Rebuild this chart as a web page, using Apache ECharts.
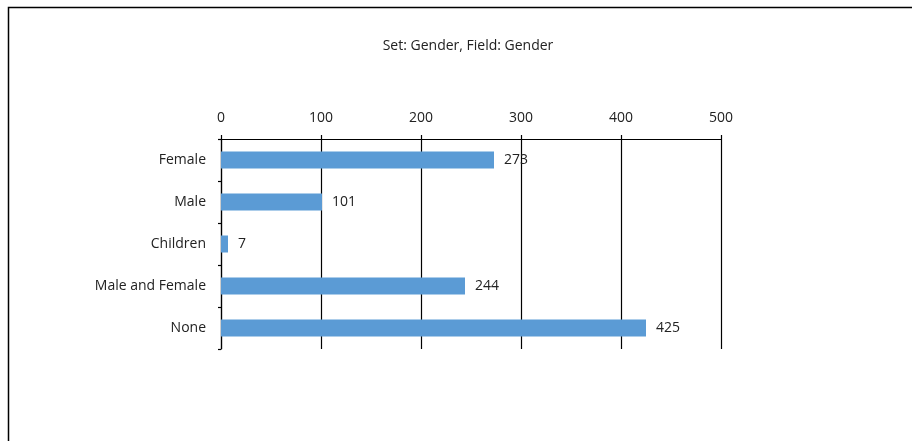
<!DOCTYPE html>
<html>
<head>
<meta charset="utf-8">
<script src="https://cdn.jsdelivr.net/npm/echarts@6/dist/echarts.min.js"></script>
<style>html,body{margin:0;padding:0;background:#fff;}#c{width:912px;height:441px;}</style>
</head>
<body>
<div id="c"></div>
<script>
var titleText = "Set: Gender, Field: Gender";
var categories = ["Female", "Male", "Children", "Male and Female", "None"];
var values = [273, 101, 7, 244, 425];
var tickValues = [0, 100, 200, 300, 400, 500];

var FONT = "'Open Sans', Lato, sans-serif";
var chart = echarts.init(document.getElementById('c'), null, {renderer: 'canvas'});
chart.setOption({
  animation: false,
  backgroundColor: '#ffffff',
  title: {
    text: titleText,
    left: 463, top: 34, textAlign: 'center',
    textStyle: {fontFamily: FONT, fontSize: 14, fontWeight: 'normal', color: '#222'}
  },
  graphic: [{
    type: 'rect', silent: true,
    shape: {x: 8.5, y: 7.5, width: 1000, height: 1000},
    style: {fill: 'none', stroke: '#000', lineWidth: 1.5}
  }],
  grid: {left: 221, right: 191, top: 139, bottom: 92, containLabel: false},
  xAxis: {
    type: 'value', position: 'top',
    min: tickValues[0], max: tickValues[tickValues.length - 1], interval: 100,
    axisLine: {show: true, lineStyle: {color: '#000', width: 1.2}},
    axisTick: {show: true, length: 4, lineStyle: {color: '#000', width: 1.2}},
    axisLabel: {margin: 14, fontFamily: FONT, fontSize: 14, color: '#222'},
    splitLine: {show: true, lineStyle: {color: '#000', width: 1.2}}
  },
  yAxis: {
    type: 'category', data: categories, inverse: true,
    axisLine: {show: true, lineStyle: {color: '#000', width: 1.2}},
    axisTick: {show: true, length: 3, lineStyle: {color: '#000', width: 1.2}},
    axisLabel: {margin: 15, fontFamily: FONT, fontSize: 14, color: '#222'},
    splitLine: {show: false}
  },
  series: [{
    type: 'bar', data: values, barWidth: 17,
    itemStyle: {color: '#5B9BD5'},
    label: {show: true, position: 'right', distance: 10, fontFamily: FONT, fontSize: 14, color: '#222'}
  }]
});
</script>
</body>
</html>
